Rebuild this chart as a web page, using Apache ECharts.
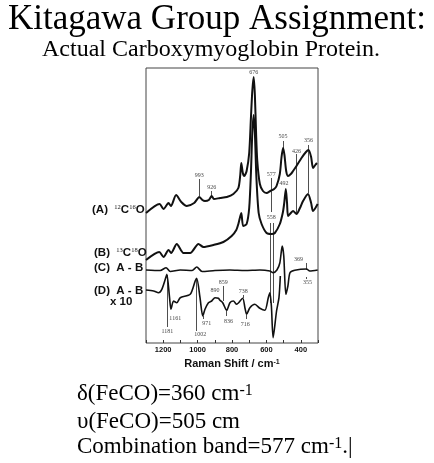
<!DOCTYPE html>
<html>
<head>
<meta charset="utf-8">
<script src="https://cdn.jsdelivr.net/npm/echarts@6/dist/echarts.min.js"></script>
<style>
  html, body { margin: 0; padding: 0; background: #fff; }
  #chart { width: 434px; height: 463px; }
</style>
</head>
<body>
<div id="chart"></div>
<script>
// spectra: [Raman shift cm-1, relative intensity (offset)]
var specA = [[1300,130],[1221,139],[1198,134],[1169,140],[1155,137],[1125,148],[1095,141],[1063,137],[1020,140],[990,146],[972,143],[957,142],[935,143],[918,147],[905,144],[870,145],[830,146],[792,149],[763,155],[752,168],[746,180],[737,170],[729,167],[715,172],[700,190],[690,225],[682,252],[674,266],[667,248],[660,210],[653,182],[638,159],[620,152],[599,150],[577,152],[555,154],[541,157],[522,169],[512,186],[503,195],[495,188],[485,172],[474,167],[458,169],[445,172],[425,177],[396,185],[370,191],[355,193],[340,186],[329,175],[316,178],[306,180]];
var specB = [[1300,83],[1223,91],[1198,86],[1169,93],[1154,90],[1121,99],[1082,90],[1043,90],[995,99],[966,96],[908,98],[850,101],[802,107],[775,113],[763,119],[746,130],[735,117],[715,119],[700,135],[690,170],[682,210],[674,228],[667,210],[658,165],[645,130],[628,119],[599,110],[570,109],[551,110],[522,119],[505,130],[497,139],[487,154],[480,140],[474,127],[458,130],[445,132],[425,129],[405,135],[387,142],[358,149],[340,140],[329,132],[302,139]];
var specC = [[1300,73],[1217,72.5],[1183,75.3],[1159,71.5],[1101,73],[1032,72.5],[1005,76],[974,71.5],[899,72.5],[812,73],[725,72.5],[638,73],[580,72],[561,70.3],[539,73],[522,80],[508,97],[499,87],[487,48.7],[475,57],[463,70.3],[435,72.7],[367,74],[348,72],[302,73]];
var specD = [[1300,53],[1256,52],[1227,50.3],[1208,53.7],[1188,63.7],[1179,68.7],[1163,45.3],[1155,33.7],[1140,42],[1121,40.3],[1101,45.3],[1043,48.7],[1014,62],[1005,64.7],[986,45.3],[970,27],[957,33.7],[937,40.3],[918,42],[899,45.3],[879,44.7],[870,42.7],[854,40.3],[831,32.7],[812,40.3],[792,42],[773,38.7],[738,44.7],[725,35.3],[715,28.7],[696,35.3],[667,38.7],[638,34.7],[609,32.7],[589,45.3],[580,50.3],[571,37],[561,5.3],[541,32],[527,45.3],[519,67]];

// peak labels: [shift, height, text]
var peakLabels = [[674,271,'676'],[990,168,'993'],[918,156,'926'],[572,169,'577'],[503,207,'505'],[425,192,'426'],[355,203,'356'],[497,160,'492'],[572,126,'558'],
  [413,84,'369'],[361,61,'355'],[899,53,'890'],[851,61,'859'],[734,52,'738'],[1130,25,'1161'],[947,20,'971'],[821,22,'836'],[723,19,'716'],[1176,12,'1181'],[984,9,'1002']];
// marker lines: [shift, from, to]
var peakLines = [[990,164,147],[918,152,147],[572,165,131],[576,120,40],[558,120,40],[503,202,195],[425,189,130],[355,198,150],
  [367,80,73],[367,66,64],[851,57,42],[734,48,45],[1179,68,16],[1005,64,12],[970,27,24],[831,32,27],[715,28,24]];
var xTicks = [400, 600, 800, 1000, 1200];

var chart = echarts.init(document.getElementById('chart'));
var serif = 'Liberation Serif';
var sans = 'Liberation Sans';

function spec(data, w) {
  return {
    type: 'line', data: data, smooth: 0.25, symbol: 'none',
    lineStyle: { color: '#111', width: w }, silent: true
  };
}

var rowRich = {
  b: { fontFamily: sans, fontWeight: 'bold', fontSize: 11.5, fill: '#111' },
  s: { fontFamily: serif, fontSize: 6.5, fill: '#111', verticalAlign: 'top' }
};
var noteRich = {
  a: { fontFamily: serif, fontSize: 23, fill: '#000' },
  s: { fontFamily: serif, fontSize: 16, fill: '#000', verticalAlign: 'top' }
};

chart.setOption({
  animation: false,
  grid: { left: 146, top: 68, right: 116, bottom: 120, show: true, borderColor: '#444', borderWidth: 1 },
  xAxis: {
    type: 'value', min: 300, max: 1300, interval: 100, inverse: true,
    axisLine: { show: false },
    axisTick: { show: true, inside: true, length: 3, lineStyle: { color: '#333' } },
    splitLine: { show: false },
    axisLabel: {
      margin: 3, color: '#111', fontFamily: sans, fontWeight: 'bold', fontSize: 7.5,
      formatter: function (v) { return xTicks.indexOf(v) >= 0 ? String(v) : ''; }
    },
    name: '{n|Raman Shift / cm}{s|-1}', nameLocation: 'middle', nameGap: 14,
    nameTextStyle: {
      rich: {
        n: { fontFamily: sans, fontWeight: 'bold', fontSize: 11, color: '#111' },
        s: { fontFamily: sans, fontWeight: 'bold', fontSize: 7, color: '#111', verticalAlign: 'top' }
      }
    }
  },
  yAxis: { type: 'value', min: 0, max: 275, show: false },
  series: [
    spec(specA, 2), spec(specB, 2), spec(specC, 1.6), spec(specD, 1.6),
    {
      type: 'lines', coordinateSystem: 'cartesian2d', silent: true,
      lineStyle: { color: '#222', width: 0.8, opacity: 1 },
      data: peakLines.map(function (s) { return { coords: [[s[0], s[1]], [s[0], s[2]]] }; })
    },
    {
      type: 'scatter', symbolSize: 0, silent: true,
      data: peakLabels,
      label: {
        show: true, position: 'inside', color: '#111', fontFamily: serif, fontSize: 6,
        formatter: function (p) { return p.data[2]; }
      }
    }
  ],
  graphic: [
    { type: 'text', style: { text: 'Kitagawa Group Assignment:', x: 217, y: 20, textAlign: 'center', textVerticalAlign: 'middle', font: '35px "Liberation Serif"', fill: '#000' } },
    { type: 'text', style: { text: 'Actual Carboxymyoglobin Protein.', x: 211, y: 50, textAlign: 'center', textVerticalAlign: 'middle', font: '24px "Liberation Serif"', fill: '#000' } },
    { type: 'text', style: { text: '{b|(A)  }{s|12}{b|C}{s|16}{b|O}', x: 92, y: 210, textVerticalAlign: 'middle', rich: rowRich } },
    { type: 'text', style: { text: '{b|(B)  }{s|13}{b|C}{s|18}{b|O}', x: 94, y: 253, textVerticalAlign: 'middle', rich: rowRich } },
    { type: 'text', style: { text: '(C)  A - B', x: 94, y: 268, textVerticalAlign: 'middle', font: 'bold 11.5px "Liberation Sans"', fill: '#111' } },
    { type: 'text', style: { text: '(D)  A - B', x: 94, y: 290.5, textVerticalAlign: 'middle', font: 'bold 11.5px "Liberation Sans"', fill: '#111' } },
    { type: 'text', style: { text: 'x 10', x: 110, y: 302, textVerticalAlign: 'middle', font: 'bold 11.5px "Liberation Sans"', fill: '#111' } },
    { type: 'text', style: { text: '{a|δ(FeCO)=360 cm}{s|-1}', x: 77, y: 394, textVerticalAlign: 'middle', rich: noteRich } },
    { type: 'text', style: { text: 'υ(FeCO)=505 cm', x: 77, y: 422, textVerticalAlign: 'middle', font: '23px "Liberation Serif"', fill: '#000' } },
    { type: 'text', style: { text: '{a|Combination band=577 cm}{s|-1}{a|.|}', x: 77, y: 447, textVerticalAlign: 'middle', rich: noteRich } }
  ]
});
</script>
</body>
</html>
